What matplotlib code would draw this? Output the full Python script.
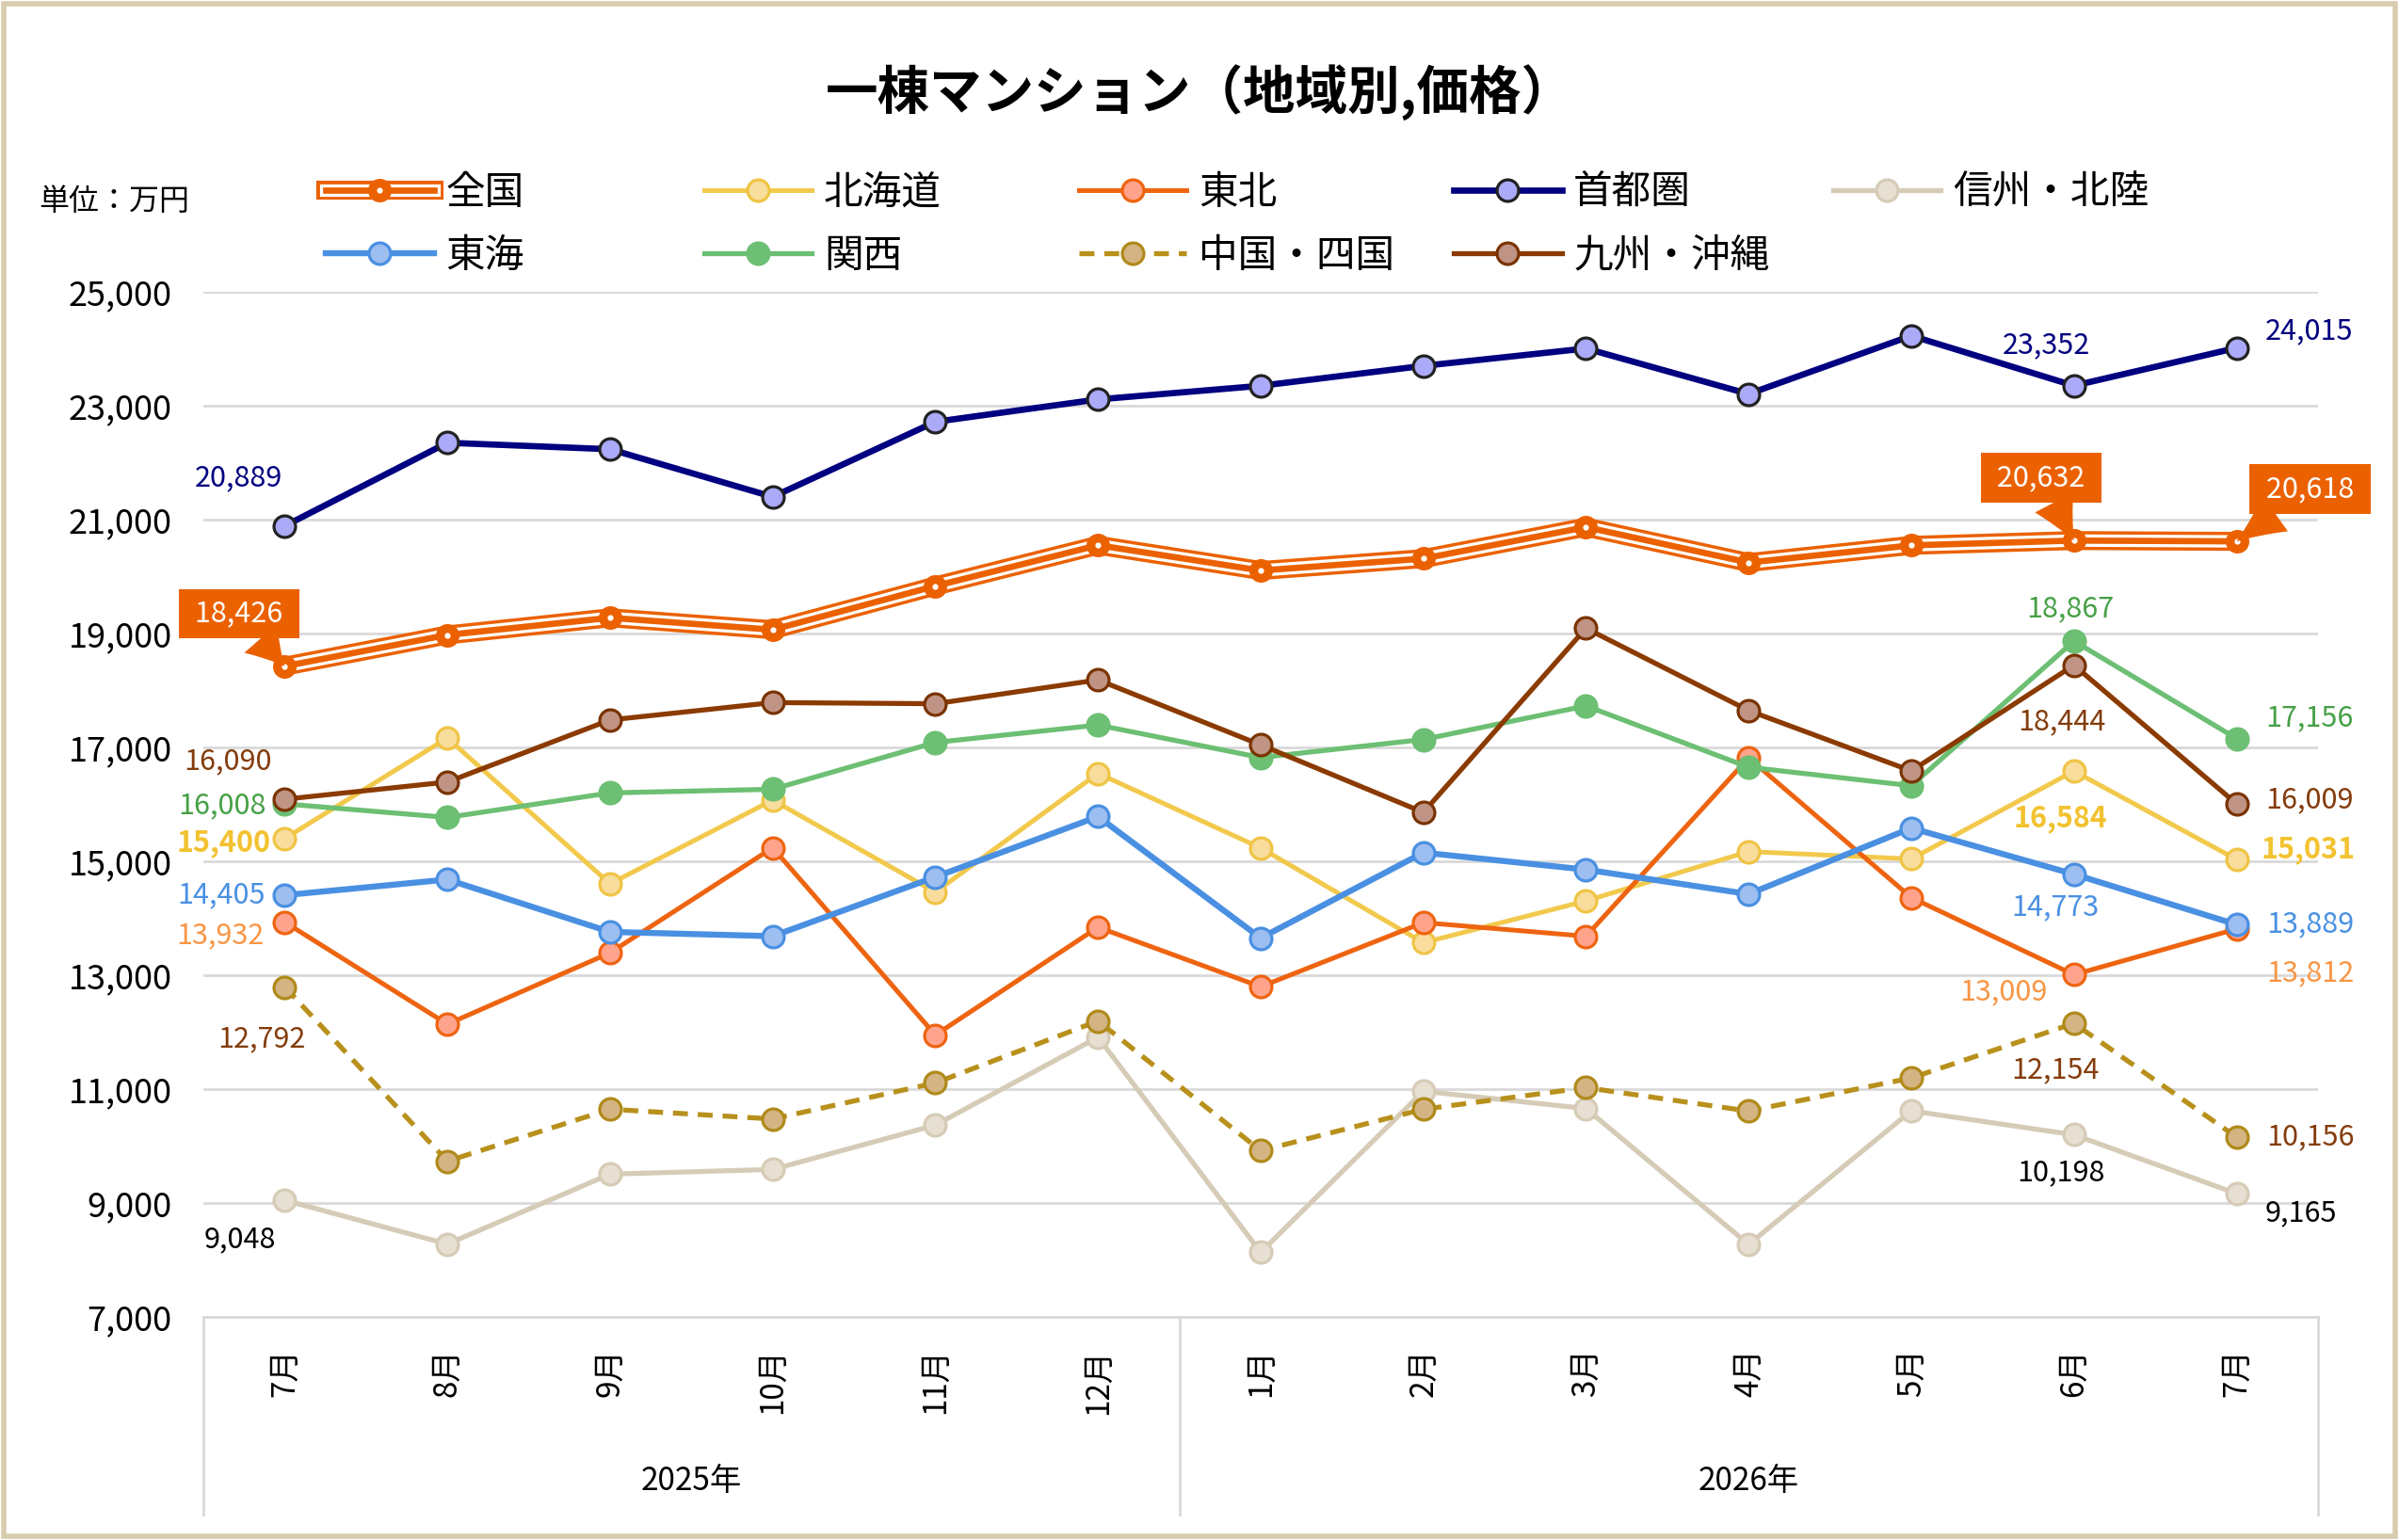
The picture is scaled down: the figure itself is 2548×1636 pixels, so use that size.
import matplotlib
matplotlib.use("Agg")
import matplotlib.pyplot as plt
from matplotlib.lines import Line2D
from matplotlib.patches import Rectangle
from matplotlib.ticker import FuncFormatter

plt.rcParams['font.family'] = ['Noto Sans CJK JP', 'DejaVu Sans']

months = ['7月', '8月', '9月', '10月', '11月', '12月',
          '1月', '2月', '3月', '4月', '5月', '6月', '7月']
years = ['2025年', '2026年']
year_groups = [(0, 5), (6, 12)]

# 単位：万円
zenkoku = [18426, 18975, 19276, 19067, 19834, 20550, 20106, 20315, 20868, 20246, 20548, 20632, 20618]
hokkaido = [15400, 17165, 14604, 16075, 14458, 16544, 15234, 13570, 14304, 15171, 15041, 16584, 15031]
tohoku = [13932, 12139, 13393, 15238, 11949, 13842, 12797, 13924, 13684, 16816, 14363, 13009, 13812]
shutoken = [20889, 22350, 22236, 21400, 22718, 23111, 23350, 23700, 24005, 23206, 24229, 23352, 24015]
shinshu = [9048, 8278, 9506, 9589, 10367, 11911, 8133, 10962, 10658, 8272, 10617, 10198, 9165]
tokai = [14405, 14680, 13760, 13685, 14725, 15785, 13652, 15152, 14854, 14424, 15584, 14773, 13889]
kansai = [16008, 15770, 16201, 16265, 17087, 17393, 16822, 17139, 17729, 16652, 16327, 18867, 17156]
chugoku = [12792, 9734, 10646, 10475, 11108, 12196, 9918, 10646, 11025, 10614, 11195, 12154, 10156]
kyushu = [16090, 16392, 17482, 17787, 17767, 18185, 17044, 15859, 19092, 17647, 16587, 18444, 16009]

ORANGE = '#EB6100'

# name, values, line colour, marker face, marker edge, lw, linestyle, label colour, bold
series = [
    ('北海道', hokkaido, '#F2C94C', '#F8DD9C', '#F0C445', 3.6, '-', '#F2C230', True),
    ('東北', tohoku, '#EE6410', '#FFA38C', '#EE6410', 3.6, '-', '#F79646', False),
    ('首都圏', shutoken, '#000080', '#AAAAF8', '#222222', 4.8, '-', '#000080', False),
    ('信州・北陸', shinshu, '#D6CBB6', '#E6DFD2', '#D6CBB6', 3.8, '-', '#000000', False),
    ('東海', tokai, '#4A90E2', '#9DBEF0', '#4A90E2', 4.6, '-', '#4A90E2', False),
    ('関西', kansai, '#6CBF73', '#6CBF73', '#6CBF73', 3.8, '-', '#47A047', False),
    ('中国・四国', chugoku, '#B8901C', '#D4B483', '#B08A1A', 3.8, (0, (3, 2)), '#843C0C', False),
    ('九州・沖縄', kyushu, '#8B3A00', '#C09484', '#7A3300', 3.8, '-', '#843C0C', False),
]

# data label placement: index, dx, dy (points), ha
label_pos = {
    '首都圏': [(0, -35, 37, 'center'), (11, -21, 31, 'center'), (12, 22, 13, 'left')],
    '九州・沖縄': [(0, -10, 29, 'right'), (11, -9, -43, 'center'), (12, 22, 3, 'left')],
    '関西': [(0, -14, -1, 'right'), (11, -3, 25, 'center'), (12, 22, 16, 'left')],
    '北海道': [(0, -11, -3, 'right'), (11, -10, -36, 'center'), (12, 19, 8, 'left')],
    '東海': [(0, -15, 0, 'right'), (11, -14, -25, 'center'), (12, 23, 0, 'left')],
    '東北': [(0, -16, -10, 'right'), (11, -54, -13, 'center'), (12, 23, -34, 'left')],
    '中国・四国': [(0, -18, -40, 'center'), (11, -14, -36, 'center'), (12, 23, 0, 'left')],
    '信州・北陸': [(0, -34, -30, 'center'), (11, -10, -29, 'center'), (12, 22, -15, 'left')],
}
callout_pos = [(0, -35, 40), (11, -25, 48), (12, 56, 40)]

fig = plt.figure(figsize=(25.48, 16.36), dpi=100)
ax = fig.add_axes([0.0848, 0.1449, 0.8814, 0.6656])
x = list(range(len(months)))

# 全国: triple compound line
ax.plot(x, zenkoku, color=ORANGE, lw=14.5, solid_joinstyle='round', solid_capstyle='round', zorder=3)
ax.plot(x, zenkoku, color='white', lw=9.5, solid_joinstyle='round', solid_capstyle='round', zorder=3)
ax.plot(x, zenkoku, color=ORANGE, lw=4.8, solid_joinstyle='round', zorder=3)
ax.plot(x, zenkoku, 'o', ms=17, mfc=ORANGE, mec=ORANGE, zorder=3)
ax.plot(x, zenkoku, 'o', ms=4.5, mfc='white', mec='none', zorder=3)

handles = {}
handles['全国'] = (Line2D([], [], color=ORANGE, lw=14.5),
                  Line2D([], [], color='white', lw=9.5),
                  Line2D([], [], color=ORANGE, lw=4.8, marker='o', ms=17, mfc=ORANGE, mec=ORANGE),
                  Line2D([], [], ls='none', marker='o', ms=4.5, mfc='white', mec='none'))

for k, (name, vals, c, mfc, mec, lw, ls, lc, bold) in enumerate(series):
    ln, = ax.plot(x, vals, color=c, lw=lw, ls=ls, marker='o', ms=16.5, mfc=mfc, mec=mec,
                  mew=2.3, zorder=4 + k)
    handles[name] = ln
    for i, dx, dy, ha in label_pos[name]:
        ax.annotate(f'{vals[i]:,}', (i, vals[i]), xytext=(dx, dy), textcoords='offset points',
                    ha=ha, va='center', fontsize=22, color=lc,
                    fontweight='bold' if bold else 'normal', zorder=20)

for i, dx, dy in callout_pos:
    ax.annotate(f' {zenkoku[i]:,} ', (i, zenkoku[i]), xytext=(dx, dy), textcoords='offset points',
                ha='center', va='center', fontsize=22, color='white', zorder=25,
                bbox=dict(boxstyle='square,pad=0.35', fc=ORANGE, ec='none'),
                arrowprops=dict(arrowstyle='wedge,tail_width=1.5,shrink_factor=0.45',
                                fc=ORANGE, ec='none', shrinkA=0, shrinkB=0))

ax.set_xlim(-0.5, 12.5)
ax.set_ylim(7000, 25000)
ax.set_yticks(range(7000, 25001, 2000))
ax.yaxis.set_major_formatter(FuncFormatter(lambda v, p: f'{int(v):,}'))
ax.set_xticks(x)
ax.set_xticklabels(months, rotation=90, fontsize=24)
ax.tick_params(axis='x', length=0, pad=24)
ax.tick_params(axis='y', length=0, pad=24, labelsize=26)
ax.grid(axis='y', color='#d9d9d9', lw=2)
ax.set_axisbelow(True)
for s in ['top', 'right', 'left']:
    ax.spines[s].set_visible(False)
ax.spines['bottom'].set_color('#d9d9d9')
ax.spines['bottom'].set_linewidth(2)

# multi-level category axis
tr = ax.get_xaxis_transform()
for xv in [-0.5, 5.5, 12.5]:
    ax.plot([xv, xv], [0, -0.193], transform=tr, color='#d9d9d9', lw=2, clip_on=False)
for yr, (a, b) in zip(years, year_groups):
    ax.text((a + b) / 2, -0.16, yr, transform=tr, ha='center', va='center', fontsize=24)

# legend: 5 equal columns, 2 rows
legend_cols = [['全国', '東海'], ['北海道', '関西'], ['東北', '中国・四国'],
               ['首都圏', '九州・沖縄'], ['信州・北陸']]
col_x = [0.1358, 0.2935, 0.4497, 0.606, 0.764]
for names, cx in zip(legend_cols, col_x):
    fig.legend([handles[n] for n in names], names, loc='upper left',
               bbox_to_anchor=(cx, 0.887), frameon=False, fontsize=30,
               handlelength=2.75, handletextpad=0.3, labelspacing=0.62,
               borderpad=0, borderaxespad=0)

fig.text(0.5, 0.940, '一棟マンション（地域別,価格）', ha='center', va='center',
         fontsize=40, fontweight='bold')
fig.text(0.016, 0.869, '単位：万円', ha='left', va='center', fontsize=23)

fig.patches.append(Rectangle((0.0015, 0.0025), 0.997, 0.995, transform=fig.transFigure,
                             fill=False, ec='#D8CCAF', lw=4))

fig.savefig('out.png', dpi=100, facecolor='white')
